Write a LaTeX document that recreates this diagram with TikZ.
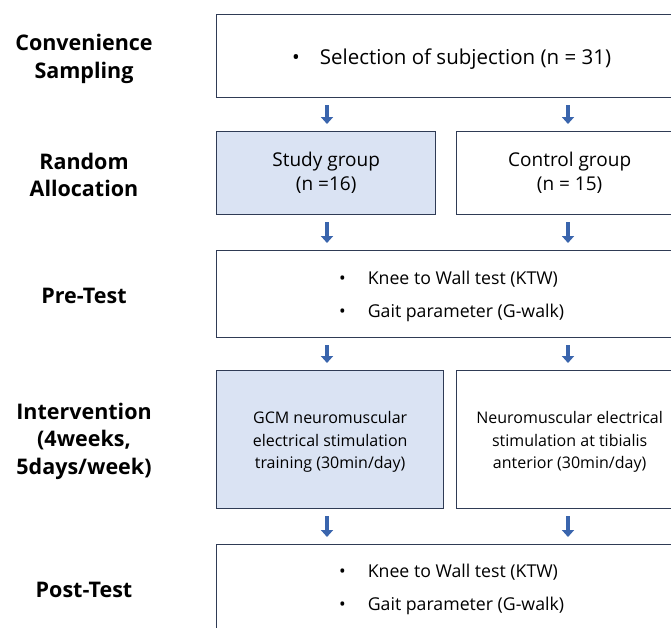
\documentclass[tikz,border=0pt]{standalone}
\usepackage{fontspec}
\setmainfont{Open Sans}
\usetikzlibrary{arrows.meta}
\definecolor{boxline}{HTML}{2F3B55}
\definecolor{studyfill}{HTML}{DAE3F3}
\definecolor{arrowblue}{HTML}{3A65AD}
\tikzset{
  flowarrow/.style={draw=arrowblue,line width=4.5pt,-{Triangle[width=12pt,length=7pt]},shorten <=7pt,shorten >=7pt},
  stagebox/.style={rectangle,draw=boxline,line width=1.3pt,anchor=north west,inner sep=0pt,align=center},
}
\newcommand{\itemrow}[2]{\begin{tabular}{@{}l@{\hspace{22pt}}l@{}}\textbullet & #1\\\textbullet & #2\end{tabular}}
\newcommand{\lowered}[2]{\raisebox{-#1}[\height][\depth]{\begin{tabular}{@{}c@{}}#2\end{tabular}}}
\begin{document}
\begin{tikzpicture}[x=1pt,y=-1pt]
\useasboundingbox (0,0) rectangle (671,627);
\clip (0,0) rectangle (671,627);

% stage labels
\begin{scope}[every node/.style={font=\bfseries\fontsize{21.5}{27.5}\selectfont,align=center}]
  \node (Sampling) at (84,59) {Convenience\\Sampling};
  \node (Allocation) at (84,175) {Random\\Allocation};
  \node (PreLabel) at (84,296) {Pre-Test};
  \node (InterLabel) at (84,441) {Intervention\\(4weeks,\\5days/week)};
  \node (PostLabel) at (84,590) {Post-Test};
\end{scope}

% boxes
\node[stagebox,minimum width=470,minimum height=83,font=\fontsize{20.5}{24}\selectfont] (Selection) at (216,14)
  {\lowered{4pt}{\textbullet\hspace{20pt}Selection of subjection (n = 31)}};
\node[stagebox,fill=studyfill,minimum width=219,minimum height=83,font=\fontsize{19}{24}\selectfont] (StudyGroup) at (216,131)
  {Study group\\(n =16)};
\node[stagebox,minimum width=226,minimum height=83,font=\fontsize{19}{24}\selectfont] (ControlGroup) at (456,131)
  {Control group\\(n = 15)};
\node[stagebox,minimum width=470,minimum height=87,font=\fontsize{17.7}{33}\selectfont] (PreTest) at (216,250)
  {\itemrow{Knee to Wall test (KTW)}{Gait parameter (G-walk)}};
\node[stagebox,fill=studyfill,minimum width=227,minimum height=138,font=\fontsize{16}{22.5}\selectfont] (StudyTraining) at (216,370)
  {\lowered{2pt}{GCM neuromuscular\\electrical stimulation\\training (30min/day)}};
\node[stagebox,minimum width=226,minimum height=138,font=\fontsize{16}{22.5}\selectfont] (ControlTraining) at (456,370)
  {\lowered{2pt}{Neuromuscular electrical\\stimulation at tibialis\\anterior (30min/day)}};
\node[stagebox,minimum width=470,minimum height=86,font=\fontsize{17.7}{33}\selectfont] (PostTest) at (216,544)
  {\itemrow{Knee to Wall test (KTW)}{Gait parameter (G-walk)}};

% arrows
\coordinate (LeftLane) at (327,0);
\coordinate (RightLane) at (568,0);
\draw[flowarrow] (Selection.south -| LeftLane) -- (StudyGroup.north -| LeftLane);
\draw[flowarrow] (Selection.south -| RightLane) -- (ControlGroup.north -| RightLane);
\draw[flowarrow] (StudyGroup.south -| LeftLane) -- (PreTest.north -| LeftLane);
\draw[flowarrow] (ControlGroup.south -| RightLane) -- (PreTest.north -| RightLane);
\draw[flowarrow] (PreTest.south -| LeftLane) -- (StudyTraining.north -| LeftLane);
\draw[flowarrow] (PreTest.south -| RightLane) -- (ControlTraining.north -| RightLane);
\draw[flowarrow] (StudyTraining.south -| LeftLane) -- (PostTest.north -| LeftLane);
\draw[flowarrow] (ControlTraining.south -| RightLane) -- (PostTest.north -| RightLane);
\end{tikzpicture}
\end{document}
